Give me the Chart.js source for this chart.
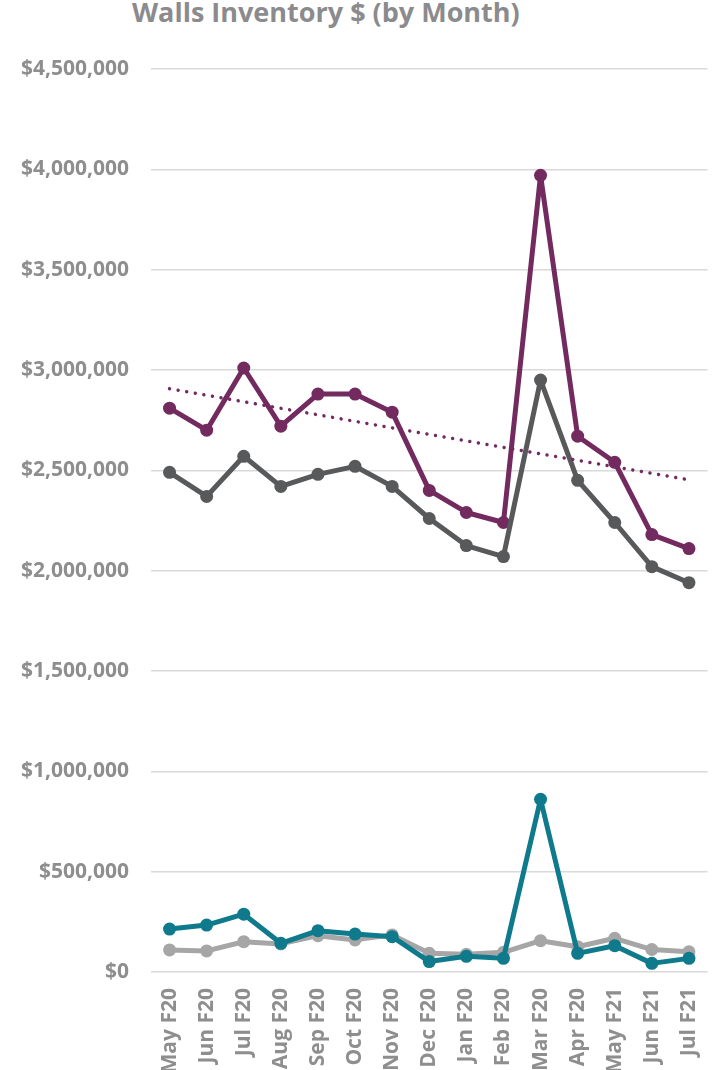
<!DOCTYPE html>
<html>
<head>
<meta charset="utf-8">
<script src="https://cdn.jsdelivr.net/npm/chart.js@4"></script>
<style>
  html, body { margin: 0; padding: 0; background: #fff; overflow: hidden; }
  #wrap { position: relative; width: 714px; height: 1070px; }
  #title { position: absolute; left: 132px; top: -7px; font-family: "Open Sans", sans-serif; font-weight: 700; font-size: 27px; color: #8B8B8D; white-space: nowrap; line-height: 38px; }
  canvas { position: absolute; left: 0; top: 0; }
</style>
</head>
<body>
<div id="wrap">
  <div id="title">Walls Inventory $ (by Month)</div>
  <canvas id="c" width="714" height="1070"></canvas>
</div>
<script>
const categories = ["May F20","Jun F20","Jul F20","Aug F20","Sep F20","Oct F20","Nov F20","Dec F20","Jan F20","Feb F20","Mar F20","Apr F20","May F21","Jun F21","Jul F21"];
const purpleValues   = [2810000,2700000,3010000,2720000,2880000,2880000,2790000,2400000,2290000,2240000,3970000,2670000,2540000,2180000,2110000];
const darkGrayValues = [2490000,2370000,2570000,2420000,2480000,2520000,2420000,2260000,2125000,2070000,2950000,2450000,2240000,2020000,1940000];
const lightGrayValues= [110000,105000,151000,140000,181000,160000,185000,93000,88000,98000,156000,126000,168000,112000,101000];
const tealValues     = [214000,234000,288000,143000,206000,189000,176000,52000,78000,68000,861000,93000,131000,43000,68000];
const yMin = 0, yMax = 4500000, yStep = 500000;

// linear trendline (least squares) of the purple series
function trend(vals) {
  const n = vals.length;
  let sx = 0, sy = 0, sxy = 0, sxx = 0;
  vals.forEach((v, i) => { sx += i; sy += v; sxy += i * v; sxx += i * i; });
  const b = (n * sxy - sx * sy) / (n * sxx - sx * sx);
  const a = (sy - b * sx) / n;
  return vals.map((v, i) => a + b * i);
}
const purpleTrend = trend(purpleValues);

const PURPLE = '#722A5F', DARK = '#58595B', LIGHT = '#A6A6A6', TEAL = '#0F7A8C';
function lineDs(label, data, color, order) {
  return { label, data, borderColor: color, backgroundColor: color, borderWidth: 5,
    borderJoinStyle: 'round', borderCapStyle: 'round',
    pointRadius: 6.5, pointHoverRadius: 6.5, pointBorderWidth: 0, pointBackgroundColor: color,
    tension: 0, order, fill: false };
}
const tickFont = { family: '"Open Sans", sans-serif', weight: 'bold', size: 21 };

new Chart(document.getElementById('c'), {
  type: 'line',
  data: {
    labels: categories,
    datasets: [
      { label: 'Trend', data: purpleTrend, borderColor: PURPLE, borderWidth: 3.5, borderDash: [0.01, 8.7],
        borderCapStyle: 'round', pointRadius: 0, order: 0, fill: false },
      lineDs('Series B', darkGrayValues, DARK, 1),
      lineDs('Series A', purpleValues, PURPLE, 2),
      lineDs('Series D', tealValues, TEAL, 3),
      lineDs('Series C', lightGrayValues, LIGHT, 4)
    ]
  },
  options: {
    responsive: false,
    animation: false,
    events: [],
    layout: { padding: { top: 69, right: 3, left: 0, bottom: 0 } },
    plugins: { legend: { display: false }, title: { display: false }, tooltip: { enabled: false } },
    scales: {
      x: {
        offset: true,
        grid: { display: false, drawTicks: false },
        border: { display: false },
        ticks: { minRotation: 90, maxRotation: 90, color: '#8E8E8E', font: tickFont, padding: 16, autoSkip: false },
        afterFit: s => { s.height = 98; s.paddingLeft = 0; s.paddingRight = 0; }
      },
      y: {
        min: yMin, max: yMax,
        grid: { color: '#D9D9D9', lineWidth: 1.5, drawTicks: false },
        border: { display: false },
        ticks: { stepSize: yStep, color: '#8E8E8E', font: tickFont, padding: 22,
          callback: v => '$' + Number(v).toLocaleString('en-US') },
        afterFit: s => { s.width = 151; }
      }
    }
  }
});
</script>
</body>
</html>
